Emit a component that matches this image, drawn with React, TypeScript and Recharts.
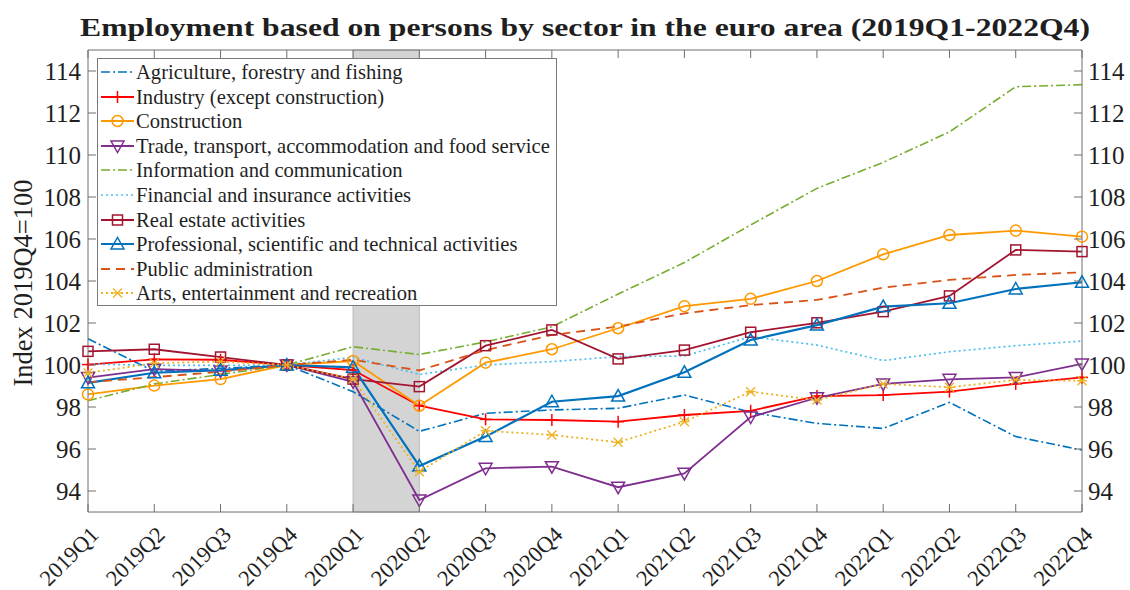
import React from 'react';
import { LineChart, Line, XAxis, YAxis, ReferenceArea } from 'recharts';

const categories = ['2019Q1','2019Q2','2019Q3','2019Q4','2020Q1','2020Q2','2020Q3','2020Q4','2021Q1','2021Q2','2021Q3','2021Q4','2022Q1','2022Q2','2022Q3','2022Q4'];

const agriculture = [101.25, 99.7, 99.84, 100, 98.73, 96.84, 97.7, 97.86, 97.94, 98.57, 97.75, 97.22, 96.98, 98.22, 96.59, 95.95];
const industry = [100.02, 100.27, 100.25, 100, 99.76, 98.06, 97.41, 97.38, 97.3, 97.62, 97.82, 98.52, 98.57, 98.73, 99.1, 99.41];
const construction = [98.6, 99.02, 99.33, 100, 100.19, 98.06, 100.11, 100.75, 101.75, 102.8, 103.15, 104.0, 105.27, 106.19, 106.4, 106.11];
const trade = [99.4, 99.8, 99.72, 100, 99.2, 93.57, 95.08, 95.16, 94.18, 94.84, 97.52, 98.44, 99.1, 99.32, 99.41, 100.05];
const information = [98.3, 99.1, 99.55, 100, 100.87, 100.5, 101.1, 101.82, 103.38, 104.88, 106.67, 108.41, 109.65, 111.1, 113.25, 113.35];
const financial = [100.05, 99.98, 99.98, 100, 100.37, 99.55, 100.0, 100.16, 100.4, 100.43, 101.35, 100.95, 100.21, 100.63, 100.92, 101.14];
const realEstate = [100.65, 100.75, 100.38, 100, 99.33, 98.97, 100.92, 101.67, 100.29, 100.71, 101.56, 102.01, 102.54, 103.29, 105.48, 105.4];
const professional = [99.15, 99.63, 99.75, 100, 99.89, 95.19, 96.59, 98.25, 98.52, 99.65, 101.19, 101.9, 102.78, 102.94, 103.62, 103.94];
const publicAdmin = [99.18, 99.42, 99.68, 100, 100.25, 99.74, 100.71, 101.43, 101.83, 102.46, 102.85, 103.1, 103.68, 104.05, 104.29, 104.41];
const arts = [99.62, 100.09, 100.16, 100, 99.33, 94.92, 96.87, 96.67, 96.32, 97.3, 98.73, 98.33, 99.1, 98.94, 99.29, 99.25];

const yTicks = [94, 96, 98, 100, 102, 104, 106, 108, 110, 112, 114];

const titleText = 'Employment based on persons by sector in the euro area (2019Q1-2022Q4)';
const yLabelText = 'Index 2019Q4=100';

type MarkerType = 'none' | 'plus' | 'circle' | 'tridown' | 'square' | 'triup' | 'star';

interface SeriesDef {
  key: string;
  name: string;
  values: number[];
  color: string;
  dash?: string;
  marker: MarkerType;
  width: number;
}

const seriesDefs: SeriesDef[] = [
  { key: 'agriculture', name: 'Agriculture, forestry and fishing', values: agriculture, color: '#0072BD', dash: '9 3 2 3', marker: 'none', width: 1.6 },
  { key: 'industry', name: 'Industry (except construction)', values: industry, color: '#FF0000', marker: 'plus', width: 1.8 },
  { key: 'construction', name: 'Construction', values: construction, color: '#FF9900', marker: 'circle', width: 1.8 },
  { key: 'trade', name: 'Trade, transport, accommodation and food service', values: trade, color: '#7E2F8E', marker: 'tridown', width: 1.8 },
  { key: 'information', name: 'Information and communication', values: information, color: '#77AC30', dash: '9 3 2 3', marker: 'none', width: 1.6 },
  { key: 'financial', name: 'Financial and insurance activities', values: financial, color: '#4DBEEE', dash: '2 3', marker: 'none', width: 1.7 },
  { key: 'realEstate', name: 'Real estate activities', values: realEstate, color: '#A2142F', marker: 'square', width: 1.8 },
  { key: 'professional', name: 'Professional, scientific and technical activities', values: professional, color: '#0072BD', marker: 'triup', width: 2.2 },
  { key: 'publicAdmin', name: 'Public administration', values: publicAdmin, color: '#D95319', dash: '9 6', marker: 'none', width: 1.8 },
  { key: 'arts', name: 'Arts, entertainment and recreation', values: arts, color: '#EDB120', dash: '2 3', marker: 'star', width: 1.8 },
];

const data = categories.map((c, i) => {
  const row: Record<string, any> = { cat: c };
  seriesDefs.forEach((s) => {
    row[s.key] = s.values[i];
  });
  return row;
});

const FONT = '"Liberation Serif", "DejaVu Serif", serif';
const AXIS = '#6e6e6e';
const TEXT = '#1f1f1f';

function Marker({ type, cx, cy, color }: { type: MarkerType; cx: number; cy: number; color: string }) {
  const sw = 1.5;
  switch (type) {
    case 'plus':
      return (
        <g stroke={color} strokeWidth={sw}>
          <line x1={cx - 6} x2={cx + 6} y1={cy} y2={cy} />
          <line x1={cx} x2={cx} y1={cy - 6} y2={cy + 6} />
        </g>
      );
    case 'circle':
      return <circle cx={cx} cy={cy} r={5.5} fill="none" stroke={color} strokeWidth={sw} />;
    case 'tridown':
      return <polygon points={`${cx - 6.5},${cy - 5} ${cx + 6.5},${cy - 5} ${cx},${cy + 6.5}`} fill="none" stroke={color} strokeWidth={sw} />;
    case 'triup':
      return <polygon points={`${cx - 6.5},${cy + 5} ${cx + 6.5},${cy + 5} ${cx},${cy - 6.5}`} fill="none" stroke={color} strokeWidth={sw} />;
    case 'square':
      return <rect x={cx - 5} y={cy - 5} width={10} height={10} fill="none" stroke={color} strokeWidth={sw} />;
    case 'star':
      return (
        <g stroke={color} strokeWidth={1.3}>
          <line x1={cx - 4.5} x2={cx + 4.5} y1={cy - 4.5} y2={cy + 4.5} />
          <line x1={cx - 4.5} x2={cx + 4.5} y1={cy + 4.5} y2={cy - 4.5} />
          <line x1={cx - 5} x2={cx + 5} y1={cy} y2={cy} />
        </g>
      );
    default:
      return null;
  }
}

const BottomTick = (props: any) => {
  const { x, y, payload } = props;
  const tx = x + 12;
  const ty = y + 24;
  return (
    <g>
      <line x1={x} x2={x} y1={y} y2={y - 8} stroke={AXIS} strokeWidth={1} />
      <text x={tx} y={ty} textAnchor="end" transform={`rotate(-45 ${tx} ${ty})`} fontFamily={FONT} fontSize={22.5} fill={TEXT}>
        {payload.value}
      </text>
    </g>
  );
};

const TopTick = (props: any) => {
  const { x, y } = props;
  return <line x1={x} x2={x} y1={y} y2={y + 8} stroke={AXIS} strokeWidth={1} />;
};

const LeftTick = (props: any) => {
  const { x, y, payload } = props;
  return (
    <g>
      <line x1={x} x2={x + 8} y1={y} y2={y} stroke={AXIS} strokeWidth={1} />
      <text x={x - 7} y={y} dy="0.36em" textAnchor="end" fontFamily={FONT} fontSize={25} fill={TEXT}>
        {payload.value}
      </text>
    </g>
  );
};

const RightTick = (props: any) => {
  const { x, y, payload } = props;
  return (
    <g>
      <line x1={x} x2={x - 8} y1={y} y2={y} stroke={AXIS} strokeWidth={1} />
      <text x={x + 6} y={y} dy="0.36em" textAnchor="start" fontFamily={FONT} fontSize={25} fill={TEXT}>
        {payload.value}
      </text>
    </g>
  );
};

function LegendBox() {
  return (
    <div
      style={{
        position: 'absolute',
        left: 97,
        top: 58,
        width: 460,
        height: 248,
        border: '1px solid #7a7a7a',
        background: '#ffffff',
        boxSizing: 'border-box',
        paddingTop: 1,
      }}
    >
      {seriesDefs.map((s) => (
        <div key={s.key} style={{ display: 'flex', alignItems: 'center', height: 24.55 }}>
          <svg width={36} height={20} style={{ flex: '0 0 auto', marginLeft: 2 }}>
            <line x1={1} x2={34} y1={10} y2={10} stroke={s.color} strokeWidth={s.width} strokeDasharray={s.dash} />
            <Marker type={s.marker} cx={17.5} cy={10} color={s.color} />
          </svg>
          <span style={{ fontFamily: FONT, fontSize: 20.6, color: TEXT, whiteSpace: 'nowrap', marginLeft: 0, lineHeight: '20px' }}>{s.name}</span>
        </div>
      ))}
    </div>
  );
}

export default function App() {
  return (
    <div style={{ position: 'absolute', left: 0, top: 0, width: 1130, height: 590, background: '#fff', overflow: 'hidden' }}>
      <svg width={1130} height={590} style={{ position: 'absolute', left: 0, top: 0 }}>
        <text
          x={585}
          y={36}
          textAnchor="middle"
          fontFamily={FONT}
          fontWeight="bold"
          fontSize={25}
          fill={TEXT}
          textLength={1010}
          lengthAdjust="spacingAndGlyphs"
        >
          {titleText}
        </text>
        <text
          x={0}
          y={0}
          transform="translate(32 283) rotate(-90)"
          textAnchor="middle"
          fontFamily={FONT}
          fontSize={26.5}
          fill={TEXT}
        >
          {yLabelText}
        </text>
      </svg>
      <div style={{ position: 'absolute', left: 0, top: 0 }}>
        <LineChart width={1130} height={590} data={data} margin={{ top: 0, right: 0, bottom: 0, left: 0 }}>
          <XAxis
            xAxisId="bottom"
            dataKey="cat"
            orientation="bottom"
            height={78}
            interval={0}
            tickSize={0}
            tickMargin={0}
            tickLine={false}
            axisLine={{ stroke: AXIS, strokeWidth: 1 }}
            tick={BottomTick}
            padding={{ left: 0, right: 0 }}
          />
          <XAxis
            xAxisId="top"
            dataKey="cat"
            orientation="top"
            height={50}
            interval={0}
            tickSize={0}
            tickMargin={0}
            tickLine={false}
            axisLine={{ stroke: AXIS, strokeWidth: 1 }}
            tick={TopTick}
            padding={{ left: 0, right: 0 }}
          />
          <YAxis
            yAxisId="left"
            orientation="left"
            width={88}
            domain={[93, 115]}
            ticks={yTicks}
            allowDataOverflow
            tickSize={0}
            tickMargin={0}
            tickLine={false}
            axisLine={{ stroke: AXIS, strokeWidth: 1 }}
            tick={LeftTick}
          />
          <YAxis
            yAxisId="right"
            orientation="right"
            width={48}
            domain={[93, 115]}
            ticks={yTicks}
            allowDataOverflow
            tickSize={0}
            tickMargin={0}
            tickLine={false}
            axisLine={{ stroke: AXIS, strokeWidth: 1 }}
            tick={RightTick}
          />
          <ReferenceArea
            xAxisId="bottom"
            yAxisId="left"
            x1="2020Q1"
            x2="2020Q2"
            y1={93}
            y2={115}
            fill="#d4d4d4"
            fillOpacity={1}
            stroke="#bbbbbb"
            strokeWidth={1}
          />
          {seriesDefs.map((s) => (
            <Line
              key={s.key}
              xAxisId="bottom"
              yAxisId="left"
              type="linear"
              dataKey={s.key}
              name={s.name}
              stroke={s.color}
              strokeWidth={s.width}
              strokeDasharray={s.dash}
              isAnimationActive={false}
              activeDot={false}
              dot={
                s.marker === 'none'
                  ? false
                  : (p: any) => <Marker key={`${s.key}-${p.index}`} type={s.marker} cx={p.cx} cy={p.cy} color={s.color} />
              }
            />
          ))}
        </LineChart>
      </div>
      <LegendBox />
    </div>
  );
}
